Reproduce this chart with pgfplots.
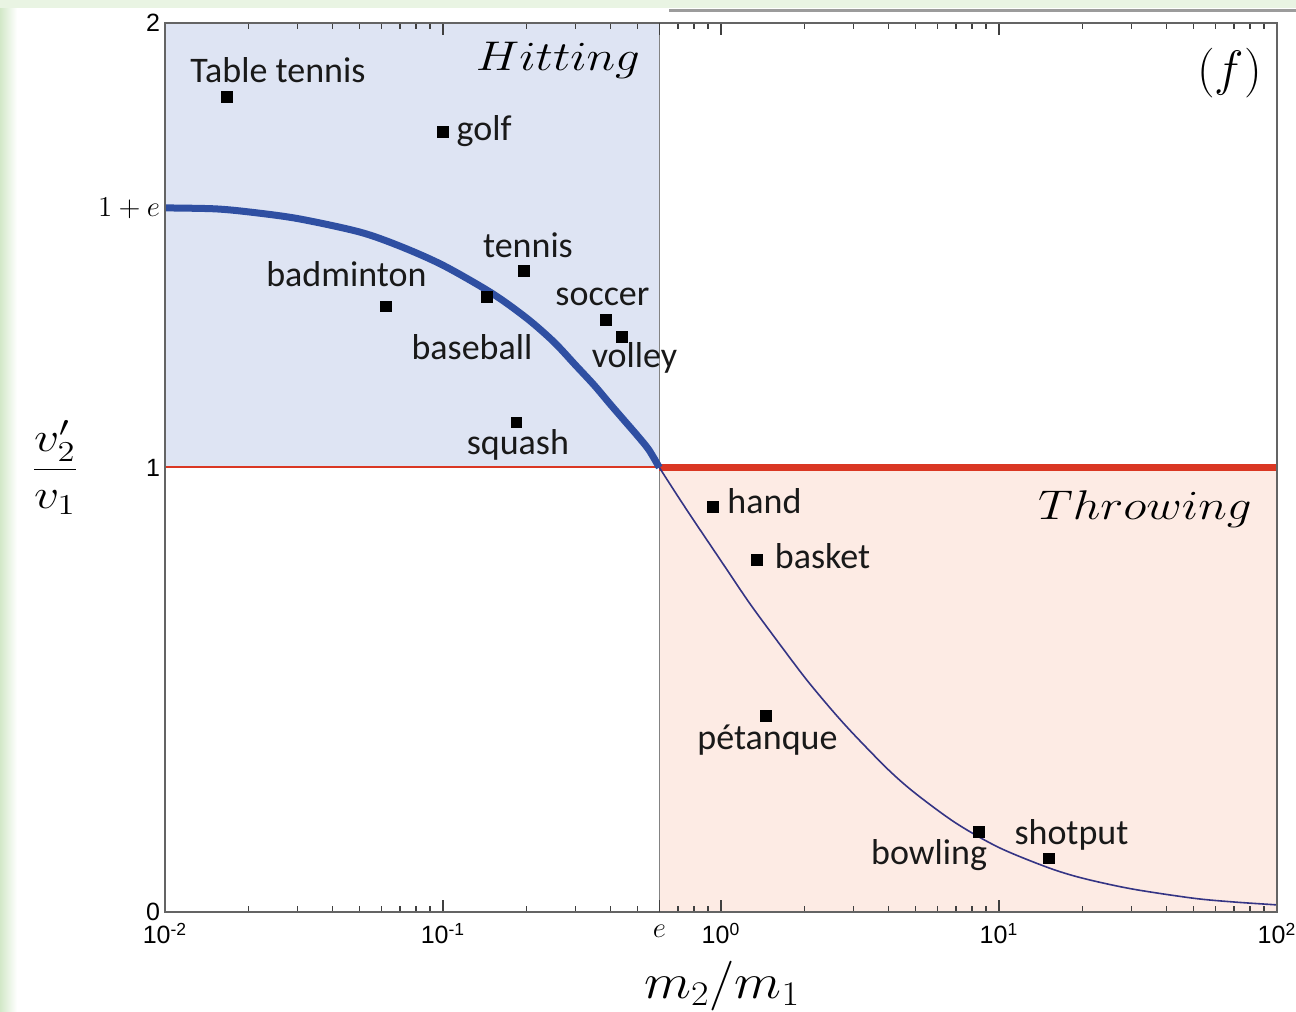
\documentclass[border=0pt]{standalone}
\usepackage{pgfplots}
\pgfplotsset{compat=1.18}
\usepackage{fontspec}
\setmainfont{Carlito}
\setsansfont{Liberation Sans}
\newfontfamily\labfont{Carlito}
\newfontfamily\tickfont{Liberation Sans}
\definecolor{hitbg}{RGB}{222,228,243}
\definecolor{thrbg}{RGB}{253,235,228}
\definecolor{curveblue}{RGB}{47,79,162}
\definecolor{curvenavy}{RGB}{52,52,132}
\definecolor{redline}{RGB}{218,55,35}
\definecolor{axgray}{RGB}{100,100,100}
\definecolor{greenbg}{RGB}{210,232,200}
\begin{document}
\begin{tikzpicture}
\useasboundingbox (-82.5pt,-50pt) rectangle (565.5pt,456pt);
\fill[white] (-82.5pt,-50pt) rectangle (565.5pt,456pt);
\shade[left color=greenbg, right color=white] (-82.5pt,-50pt) rectangle (-74pt,456pt);
\fill[greenbg!50!white] (-82.5pt,452pt) rectangle (565.5pt,456pt);
\draw[line width=1.5pt, black!55, opacity=0.7] (252pt,450.5pt) -- (565.5pt,450.5pt);
\begin{axis}[
  at={(0pt,0pt)}, anchor=south west,
  scale only axis, width=556pt, height=444.5pt,
  xmode=log, xmin=0.01, xmax=100, ymin=0, ymax=2,
  axis on top,
  axis line style={axgray, line width=0.6pt},
  major tick length=6pt, minor tick length=3pt,
  tick align=inside,
  xtick style={black!75, line width=0.8pt},
  minor x tick style={black!75, line width=0.8pt},
  xtick pos=both, ytick pos=left,
  xtick={0.01,0.1,1,10,100},
  xticklabels={10\textsuperscript{-2},10\textsuperscript{-1},10\textsuperscript{0},10\textsuperscript{1},10\textsuperscript{2}},
  minor xtick={0.02,0.03,0.04,0.05,0.06,0.07,0.08,0.09,0.2,0.3,0.4,0.5,0.6,0.7,0.8,0.9,2,3,4,5,6,7,8,9,20,30,40,50,60,70,80,90},
  extra x ticks={0.6}, extra x tick labels={$e$},
  extra x tick style={xticklabel style={font=\fontsize{14}{16}\selectfont, yshift=-1pt}},
  xticklabel style={font=\tickfont\fontsize{12.5}{14}\selectfont, yshift=-2pt},
  ytick={0,1,2}, yticklabels={0,1,2},
  ytick style={draw=none},
  extra y ticks={1.584}, extra y tick labels={$1+e$},
  extra y tick style={ytick style={draw=none}, yticklabel style={font=\fontsize{14}{16}\selectfont}},
  yticklabel style={font=\tickfont\fontsize{12.5}{14}\selectfont, xshift=1pt},
  xlabel={\scalebox{1.1}[1]{$m_2/m_1$}},
  xlabel style={at={(rel axis cs:0.501,-0.083)}, anchor=center, font=\fontsize{24}{28}\selectfont},
  ylabel={\scalebox{1.2}[1]{$\displaystyle\frac{v_2'}{v_1}$}},
  ylabel style={at={(rel axis cs:-0.099,0.5)}, anchor=center, rotate=-90, font=\fontsize{22}{26}\selectfont},
  clip=false,
]
% shaded regions
\addplot[fill=hitbg, draw=none] coordinates {(0.01,1) (0.6,1) (0.6,2) (0.01,2) (0.01,1)};
\addplot[fill=thrbg, draw=none] coordinates {(0.6,0) (100,0) (100,1) (0.6,1) (0.6,0)};
% vertical line at e
\addplot[axgray!80, line width=0.6pt] coordinates {(0.6,0) (0.6,2)};
% red line y=1
\addplot[redline, line width=1pt] coordinates {(0.01,1) (0.6,1)};
\addplot[redline, line width=3.5pt] coordinates {(0.6,1) (100,1)};
% thin curve (throwing)
\addplot[curvenavy, line width=0.8pt, smooth] coordinates {
(0.6,1.0) (0.7,0.935) (0.8,0.880) (1,0.79) (1.25,0.70) (1.5,0.632) (2,0.528) (2.5,0.455) (3,0.40) (4,0.32) (5,0.267) (7,0.20) (10,0.145) (15,0.10) (20,0.076) (30,0.052) (50,0.031) (70,0.0225) (100,0.016)};
% thick curve (hitting)
\addplot[curveblue, line width=3.5pt, smooth] coordinates {
(0.01,1.584) (0.015,1.582) (0.02,1.575) (0.03,1.560) (0.05,1.530) (0.07,1.498) (0.1,1.455) (0.15,1.392) (0.2,1.336) (0.25,1.283) (0.3,1.230) (0.35,1.185) (0.4,1.142) (0.45,1.105) (0.5,1.072) (0.55,1.040) (0.6,1.0)};
% sports
\addplot[only marks, mark=square*, mark size=2.6pt, black] coordinates {
(0.0167,1.834) (0.1,1.755) (0.1954,1.442) (0.0624,1.363) (0.1439,1.384) (0.3855,1.332) (0.4406,1.294) (0.1834,1.102)
(0.935,0.911) (1.347,0.792) (1.452,0.441) (8.47,0.180) (15.1,0.121)};
% labels
\begin{scope}[every node/.style={inner sep=0pt, font=\labfont\fontsize{18}{20}\selectfont, text=black!90}]
\node at (rel axis cs:0.1016,0.9471) {Table tennis};
\node at (rel axis cs:0.2869,0.8785) {golf};
\node at (rel axis cs:0.3264,0.7503) {tennis};
\node at (rel axis cs:0.1632,0.7177) {badminton};
\node at (rel axis cs:0.2761,0.6350) {baseball};
\node at (rel axis cs:0.3934,0.6924) {soccer};
\node at (rel axis cs:0.4222,0.6232) {volley};
\node at (rel axis cs:0.3174,0.5253) {squash};
\node at (rel axis cs:0.5391,0.4618) {hand};
\node at (rel axis cs:0.5913,0.3999) {basket};
\node at (rel axis cs:0.5418,0.1935) {pétanque};
\node at (rel axis cs:0.6871,0.0641) {bowling};
\node at (rel axis cs:0.8152,0.0866) {shotput};
\end{scope}
\node[inner sep=0pt, font=\fontsize{22}{26}\selectfont] at (rel axis cs:0.3534,0.9584) {\scalebox{1.18}[1]{$Hitting$}};
\node[inner sep=0pt, font=\fontsize{22}{26}\selectfont] at (rel axis cs:0.8813,0.4528) {\scalebox{1.18}[1]{$Throwing$}};
\node[inner sep=0pt, font=\fontsize{24}{28}\selectfont] at (rel axis cs:0.9573,0.9438) {$(f)$};
\end{axis}
\end{tikzpicture}
\end{document}
